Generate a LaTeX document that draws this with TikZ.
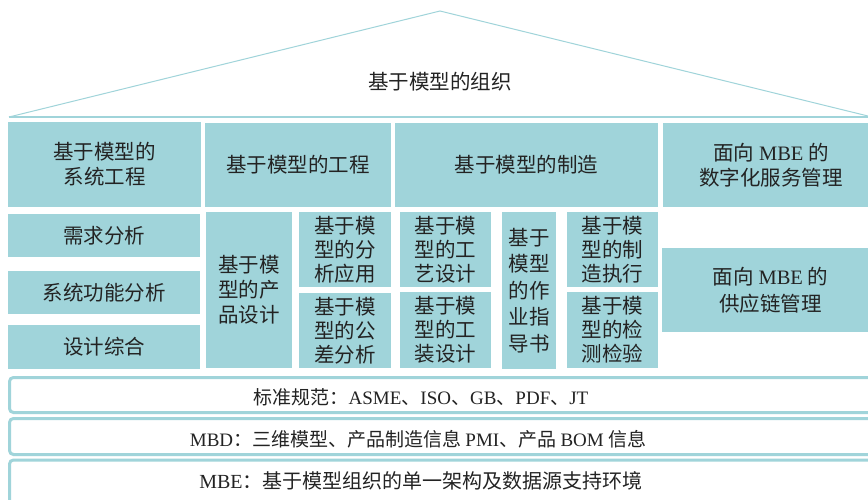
\documentclass[tikz,border=0pt]{standalone}
\usepackage{fontspec}
\setmainfont{Noto Sans CJK SC}
\newfontfamily\lat{Liberation Serif}
\definecolor{tealfill}{RGB}{160,212,218}
\definecolor{txtcol}{RGB}{35,35,35}
\newcommand\mybox[6]{\node[box,minimum width={(#4-#2)*1pt},minimum height={(#5-#3)*1pt}] (#1) at ({(#2+#4)/2},{(#3+#5)/2}) {#6};}
\begin{document}
\begin{tikzpicture}[x=1pt,y=-1pt,
  box/.style={fill=tealfill, inner sep=0pt, align=center, text=txtcol, font=\fontsize{20.5}{25}\selectfont},
  bar/.style={draw=tealfill, line width=3pt, fill=white, rounded corners=4pt},
  bartext/.style={text=txtcol, inner sep=0pt, font=\fontsize{19}{23}\selectfont},
  roof/.style={draw=tealfill, line width=1pt}]
\clip (0,0) rectangle (868,500);
\fill[white] (0,0) rectangle (868,500);
% roof
\coordinate (L) at (9,117);
\coordinate (A) at (440,11);
\coordinate (R) at (872,117);
\draw[roof] (L) -- (A) -- (R);
\draw[draw=tealfill, line width=1.8pt] (L) -- (R);
\node[text=txtcol, inner sep=0pt, font=\fontsize{20.5}{25}\selectfont] (org) at (440,82) {基于模型的组织};
% top row
\mybox{sys}{8}{122}{201}{207}{基于模型的\\系统工程}
\mybox{eng}{205}{123}{391}{207}{基于模型的工程}
\mybox{mfg}{395}{123}{658}{207}{基于模型的制造}
\mybox{svc}{663}{123}{879}{207}{面向 {\lat MBE} 的\\数字化服务管理}
% left column
\mybox{req}{8}{214}{200}{257}{需求分析}
\mybox{func}{8}{271}{200}{314}{系统功能分析}
\mybox{syn}{8}{325}{200}{369}{设计综合}
% engineering
\mybox{pd}{206}{212}{292}{368}{基于模\\型的产\\品设计}
\tikzset{box/.style={fill=tealfill, inner sep=0pt, align=center, text=txtcol, font=\fontsize{20.5}{24}\selectfont}}
\mybox{ana}{299}{212}{391}{287}{基于模\\型的分\\析应用}
\mybox{tol}{299}{293}{391}{368}{基于模\\型的公\\差分析}
% manufacturing
\mybox{proc}{400}{212}{491}{287}{基于模\\型的工\\艺设计}
\mybox{tool}{400}{292}{491}{368}{基于模\\型的工\\装设计}
\tikzset{box/.style={fill=tealfill, inner sep=0pt, align=center, text=txtcol, font=\fontsize{20.5}{26.5}\selectfont}}
\mybox{wi}{502}{212}{556}{369}{基于\\模型\\的作\\业指\\导书}
\tikzset{box/.style={fill=tealfill, inner sep=0pt, align=center, text=txtcol, font=\fontsize{20.5}{24}\selectfont}}
\mybox{exe}{567}{212}{658}{287}{基于模\\型的制\\造执行}
\mybox{ins}{567}{292}{658}{368}{基于模\\型的检\\测检验}
% supply chain
\tikzset{box/.style={fill=tealfill, inner sep=0pt, align=center, text=txtcol, font=\fontsize{20.5}{27}\selectfont}}
\mybox{sc}{662}{248}{879}{332}{面向 {\lat MBE} 的\\供应链管理}
% bottom bars
\draw[bar] (9.5,377.5) rectangle (900,412.5);
\draw[bar] (9.5,418.5) rectangle (900,454.5);
\draw[bar] (9.5,460) rectangle (900,520);
\node[bartext] (std) at (421,397) {标准规范：{\lat ASME}、{\lat ISO}、{\lat GB}、{\lat PDF}、{\lat JT}};
\node[bartext] (mbd) at (418,439) {{\lat MBD}：三维模型、产品制造信息 {\lat PMI}、产品 {\lat BOM} 信息};
\node[bartext, font=\fontsize{20}{24}\selectfont] (mbe) at (421,481) {{\lat MBE}：基于模型组织的单一架构及数据源支持环境};
\end{tikzpicture}
\end{document}
